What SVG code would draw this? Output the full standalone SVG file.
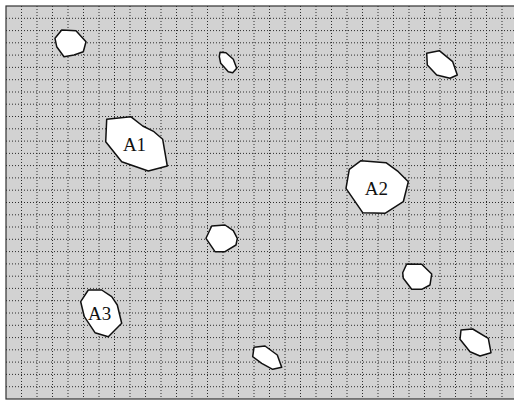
<svg xmlns="http://www.w3.org/2000/svg" width="514" height="401" viewBox="0 0 514 401">
<style>
.bg{fill:#d2d2d2;stroke:#333;stroke-width:1.2}
.grid{fill:none;stroke:#2a2a2a;stroke-width:1;stroke-dasharray:1 2}
.p{fill:#fff;stroke:#111;stroke-width:1.5;stroke-linejoin:round}
.t{font-family:"Liberation Serif","Times New Roman",serif;font-size:19px;fill:#111;text-anchor:middle}
</style>
<rect class="bg" x="6" y="6" width="520" height="393"/>
<path class="grid" d="M21.5 6V399M37 6V399M52.5 6V399M68 6V399M83.5 6V399M99 6V399M114.5 6V399M130 6V399M145.5 6V399M161 6V399M176.5 6V399M192 6V399M207.5 6V399M223 6V399M238.5 6V399M254 6V399M269.5 6V399M285 6V399M300.5 6V399M316 6V399M331.5 6V399M347 6V399M362.5 6V399M378 6V399M393.5 6V399M409 6V399M424.5 6V399M440 6V399M455.5 6V399M471 6V399M486.5 6V399M502 6V399
M6 18.3H514M6 30.6H514M6 42.8H514M6 55.1H514M6 67.4H514M6 79.7H514M6 92H514M6 104.2H514M6 116.5H514M6 128.8H514M6 141.1H514M6 153.4H514M6 165.6H514M6 177.9H514M6 190.2H514M6 202.5H514M6 214.8H514M6 227H514M6 239.3H514M6 251.6H514M6 263.9H514M6 276.2H514M6 288.4H514M6 300.7H514M6 313H514M6 325.3H514M6 337.6H514M6 349.8H514M6 362.1H514M6 374.4H514M6 386.7H514"/>
<g id="s1"><polygon class="p" points="61.7,30 76,30.7 86,41.7 83.3,51.7 74,55 64,56.7 56.7,46.7 55,38.3"/></g>
<g id="s2"><polygon class="p" points="220,52.3 226,52.7 233.3,59.3 236.7,68.3 232.7,72.7 228.3,71.7 220.7,63.3 219.3,56.7"/></g>
<g id="s3"><polygon class="p" points="426.7,53.3 439.3,50.7 452.7,61.7 457.3,75 450,78.3 436.7,75 427.3,65"/></g>
<g id="A1"><polygon class="p" points="106.7,119.3 130.7,116.7 142.7,126 154,131.7 162.7,139.3 167.3,166 148.3,171 121.7,161.7 105.7,141.7"/><text class="t" x="134.5" y="150.5">A1</text></g>
<g id="A2"><polygon class="p" points="361,160.7 386,162.7 398.3,171.7 408.3,181.7 403.3,201.7 385,213.3 362.7,212.7 346,188.3 349.3,169.3"/><text class="t" x="376.3" y="195">A2</text></g>
<g id="s4"><polygon class="p" points="211.7,226 225,225 233.3,230.7 237.3,238.3 236,245 225,251.7 215,251.7 206,238.3"/></g>
<g id="s5"><polygon class="p" points="406.7,264 421.7,264.3 431.7,274 430,285 421.7,289.3 411.7,289.3 403.3,278.3 402.7,272.7"/></g>
<g id="A3"><polygon class="p" points="88.3,290 101.7,290 111.7,296.7 117.3,305 121.7,323.3 108.3,336.7 95,332.7 84.3,316.7 80.7,301.7"/><text class="t" x="99.7" y="319.5">A3</text></g>
<g id="s6"><polygon class="p" points="461,330 472.7,329 488.3,338.3 491,352.7 480,356 470,351.7 460,339.3"/></g>
<g id="s7"><polygon class="p" points="254,347.3 265,346 277.3,355 281.7,367.3 272.7,369.3 261.7,363.3 252.7,356.7"/></g>
</svg>
